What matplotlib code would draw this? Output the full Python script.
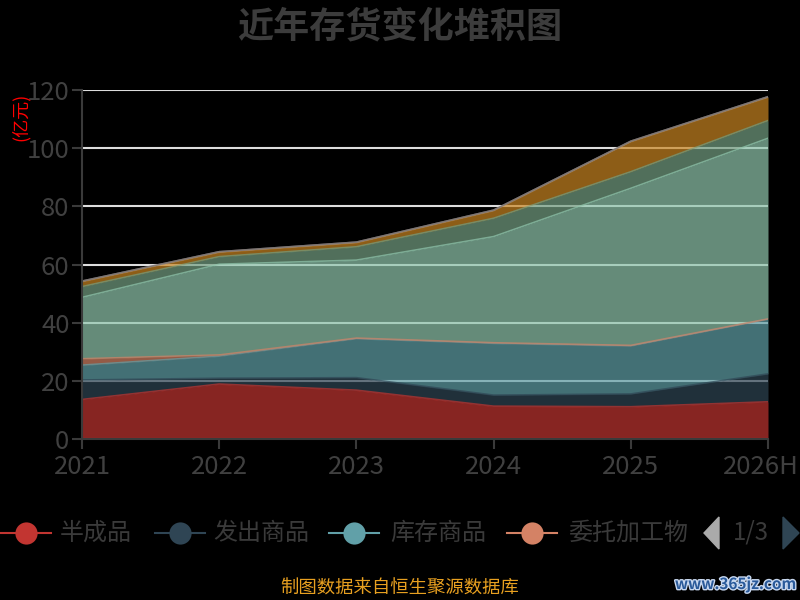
import matplotlib
matplotlib.use("Agg")
import matplotlib.pyplot as plt
import matplotlib.patheffects as pe
import matplotlib.transforms as mtransforms
from matplotlib.lines import Line2D
from matplotlib.patches import Polygon
import numpy as np

plt.rcParams['font.family'] = ['Noto Sans CJK SC', 'DejaVu Sans']

years = ["2021", "2022", "2023", "2024", "2025", "2026H"]
series_names = ["半成品", "发出商品", "库存商品", "委托加工物资", "原材料", "在产品",
                "周转材料", "合同履约成本", "其他"]
banchengpin = [13.6, 18.9, 16.8, 11.3, 11.1, 12.8]
fachu = [6.7, 2.0, 4.3, 3.8, 4.4, 9.6]
kucun = [5.1, 7.6, 13.4, 17.8, 16.5, 18.8]
weituo = [2.2, 0.4, 0.2, 0.2, 0.2, 0.1]
yuancailiao = [21.1, 31.2, 26.8, 36.5, 54.0, 62.1]
zaichanpin = [3.7, 2.6, 4.6, 6.3, 5.7, 6.1]
zhouzhuan = [1.7, 1.5, 1.4, 2.6, 10.3, 8.0]
hetong = [0.2, 0.2, 0.2, 0.2, 0.2, 0.2]
qita = [0.0, 0.0, 0.0, 0.0, 0.0, 0.0]
all_series = [banchengpin, fachu, kucun, weituo, yuancailiao, zaichanpin,
              zhouzhuan, hetong, qita]
colors = ['#c23531', '#2f4554', '#61a0a8', '#d48265', '#91c7ae', '#749f83',
          '#ca8622', '#bda29a', '#6e7074']

fig = plt.figure(figsize=(8, 6), dpi=100, facecolor='black')
ax = fig.add_axes([0.1025, 0.2683, 0.8575, 0.5817])
ax.set_facecolor('black')

x = np.arange(len(years))
ax.set_xlim(0, len(years) - 1)
ax.set_ylim(0, 120)
ax.set_yticks([0, 20, 40, 60, 80, 100, 120])
ax.yaxis.grid(True, color='#dddddd', linewidth=1.5, zorder=0)
ax.set_axisbelow(True)

base = np.zeros(len(years))
for vals, c in zip(all_series, colors):
    top = base + np.array(vals)
    ax.fill_between(x, base, top, color=c, alpha=0.7, linewidth=0, zorder=2)
    ax.plot(x, top, color=c, alpha=0.7, linewidth=1.2, zorder=3)
    base = top

for s in ['top', 'right']:
    ax.spines[s].set_visible(False)
for s in ['left', 'bottom']:
    ax.spines[s].set_color('#3a3a3a')
    ax.spines[s].set_linewidth(1.5)
    ax.spines[s].set_zorder(4)
ax.set_xticks(x)
ax.set_xticklabels(years)
ax.tick_params(axis='both', colors='#3a3a3a', labelcolor='#404040', labelsize=18.5,
               length=7, width=1.5)
ax.tick_params(axis='x', pad=4)
ax.tick_params(axis='y', pad=2)
for lab in ax.get_xticklabels() + ax.get_yticklabels():
    lab.set_fontweight('light')
last = ax.get_xticklabels()[-1]
last.set_horizontalalignment('right')
last.set_transform(last.get_transform() +
                   mtransforms.ScaledTranslation(31 / 100, 0, fig.dpi_scale_trans))

fig.text(0.026, 0.805, "(亿元)", color='red', fontsize=13, rotation=90,
         ha='center', va='center')

fig.text(0.5, 0.955, "近年存货变化堆积图", color='#3c3c3c', fontsize=26,
         fontweight='bold', ha='center', va='center')

# legend (page 1 of 3)
leg_y = 1 - 533 / 600
items = [(26, 60, "半成品", colors[0]), (180, 213, "发出商品", colors[1]),
         (354, 390, "库存商品", colors[2]), (532, 568, "委托加工物", colors[3])]
for cx, tx, label, c in items:
    fig.add_artist(Line2D([(cx - 25) / 800, (cx + 25) / 800], [leg_y, leg_y],
                          color=c, linewidth=1.5, transform=fig.transFigure))
    fig.add_artist(Line2D([cx / 800], [leg_y], marker='o', markersize=16,
                          color=c, markeredgewidth=0, transform=fig.transFigure))
    fig.text(tx / 800, leg_y, label, color='#3a3a3a', fontsize=17.3,
             fontweight='light', ha='left', va='center')
fig.add_artist(Polygon([[704 / 800, leg_y], [719 / 800, leg_y + 16 / 600],
                        [719 / 800, leg_y - 16 / 600]], closed=True,
                       color='#aaaaaa', transform=fig.transFigure))
fig.add_artist(Polygon([[799 / 800, leg_y], [783 / 800, leg_y + 16 / 600],
                        [783 / 800, leg_y - 16 / 600]], closed=True,
                       color='#2f4554', transform=fig.transFigure))
fig.text(751 / 800, leg_y, "1/3", color='#3a3a3a', fontsize=17.3,
         fontweight='light', ha='center', va='center')

fig.text(0.5, 1 - 589 / 600, "制图数据来自恒生聚源数据库", color='#e8a020',
         fontsize=13.2, ha='center', va='center')
fig.text(0.995, 1 - 584 / 600, "www.365jz.com", color='#2a5a9a', fontsize=11,
         fontweight='bold', ha='right', va='center',
         path_effects=[pe.withStroke(linewidth=2, foreground='#c8d8f0')])

fig.savefig("out.png", dpi=100, facecolor='black')
